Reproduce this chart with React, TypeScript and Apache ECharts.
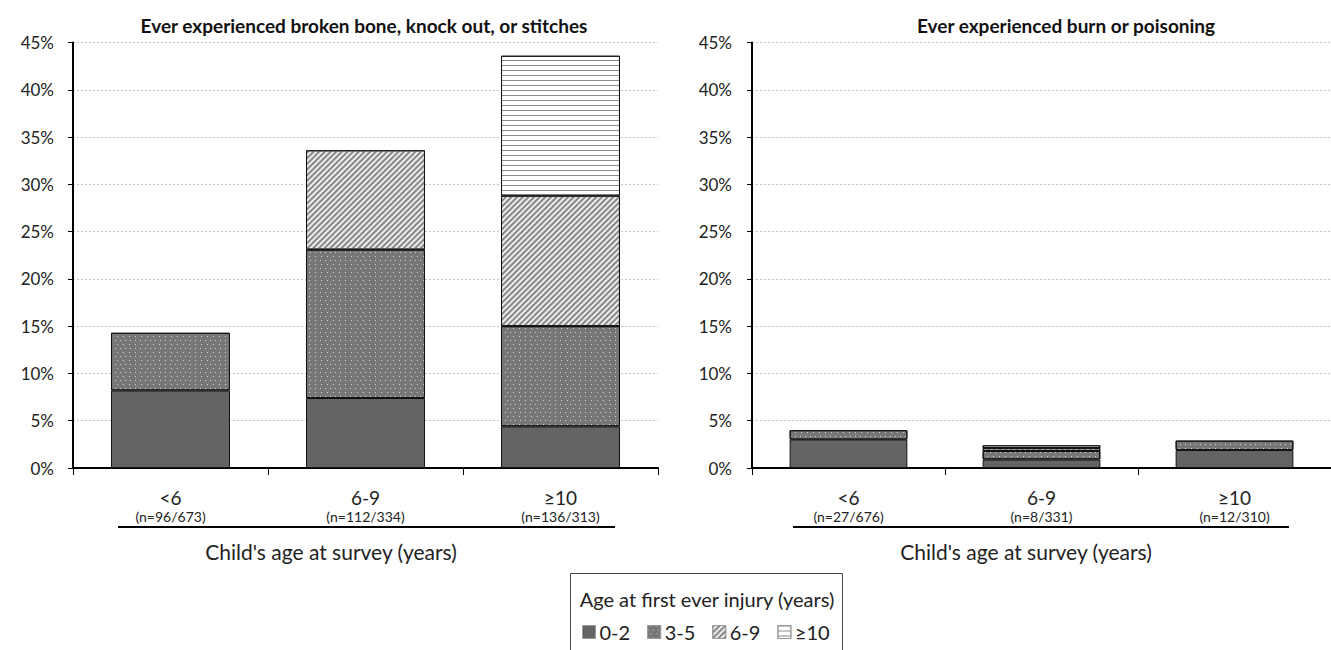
import React, { useEffect, useRef } from "react";
import * as echarts from "echarts";

const childAges = ["<6", "6-9", "≥10"];
const brokenNLabels = ["(n=96/673)", "(n=112/334)", "(n=136/313)"];
const burnNLabels = ["(n=27/676)", "(n=8/331)", "(n=12/310)"];
const injuryAges = ["0-2", "3-5", "6-9", "≥10"];

const broken0to2 = [8.2, 7.4, 4.4];
const broken3to5 = [6.1, 15.7, 10.6];
const broken6to9 = [null, 10.5, 13.8];
const broken10plus = [null, null, 14.8];

const burn0to2 = [3.0, 0.9, 1.9];
const burn3to5 = [1.0, 0.9, 1.0];
const burn6to9 = [null, 0.3, null];
const burn10plus = [null, 0.3, null];

const yTicks = [0, 5, 10, 15, 20, 25, 30, 35, 40, 45];

const FONT = "Lato, 'Open Sans', sans-serif";

const styles: any[] = [
  { color: "#646464" },
  {
    color: "#777777",
    decal: {
      symbol: "rect",
      symbolSize: 1,
      dashArrayX: [[1, 4], [0, 2.5, 1, 1.5]],
      dashArrayY: [1, 2.5],
      color: "#d4d4d4",
      rotation: 0,
    },
  },
  {
    color: "#ececec",
    decal: {
      symbol: "rect",
      symbolSize: 1,
      symbolKeepAspect: false,
      dashArrayX: [10, 0],
      dashArrayY: [1.6, 2],
      color: "#888888",
      rotation: -Math.PI / 4,
    },
  },
  {
    color: "#ffffff",
    decal: {
      symbol: "rect",
      symbolSize: 1,
      symbolKeepAspect: false,
      dashArrayX: [10, 0],
      dashArrayY: [1, 3.7],
      color: "#8a8a8a",
      rotation: 0,
    },
  },
];

export default function App() {
  const ref = useRef<HTMLDivElement>(null);
  useEffect(() => {
    if (!ref.current) return;
    const chart = echarts.init(ref.current, undefined, { renderer: "svg" });
    const brokenData = [broken0to2, broken3to5, broken6to9, broken10plus];
    const burnData = [burn0to2, burn3to5, burn6to9, burn10plus];

    const mkSeries = (data: (number | null)[][], axis: number, stack: string) =>
      injuryAges.map((name, i) => ({
        name,
        type: "bar",
        stack,
        xAxisIndex: axis,
        yAxisIndex: axis,
        barWidth: "61%",
        data: data[i].map((v) => (v == null ? "-" : v)),
        itemStyle: {
          ...styles[i],
          borderColor: "#111",
          borderWidth: 1,
        },
        emphasis: { disabled: true },
      }));

    const xAxisCommon = (labels: string[], gridIndex: number) => ({
      type: "category",
      gridIndex,
      data: childAges,
      axisLine: { lineStyle: { color: "#000", width: 2 } },
      axisTick: { show: true, length: 7, lineStyle: { color: "#000", width: 1 } },
      axisLabel: {
        margin: 19,
        formatter: (v: string, idx: number) => `{a|${v}}\n{b|${labels[idx]}}`,
        rich: {
          a: { fontSize: 19, lineHeight: 21, color: "#222", fontFamily: FONT },
          b: { fontSize: 14, lineHeight: 17, color: "#222", fontFamily: FONT },
        },
      },
    });

    const yAxisCommon = (gridIndex: number, margin: number) => ({
      type: "value",
      gridIndex,
      min: yTicks[0],
      max: yTicks[yTicks.length - 1],
      interval: yTicks[1] - yTicks[0],
      axisLine: { show: true, lineStyle: { color: "#000", width: 2 } },
      axisTick: { show: true, length: 5, lineStyle: { color: "#000", width: 1 } },
      axisLabel: {
        margin,
        formatter: "{value}%",
        fontSize: 17,
        color: "#222",
        fontFamily: FONT,
      },
      splitLine: { show: true, lineStyle: { color: "#c4c4c4", width: 1, type: [2, 2] } },
    });

    chart.setOption({
      animation: false,
      grid: [
        { left: 73, top: 42.5, width: 585, height: 425.5 },
        { left: 752, top: 42.5, width: 594, height: 425.5 },
      ],
      xAxis: [xAxisCommon(brokenNLabels, 0), xAxisCommon(burnNLabels, 1)],
      yAxis: [yAxisCommon(0, 19), yAxisCommon(1, 20)],
      legend: {
        data: injuryAges,
        left: 582,
        top: 622,
        padding: 0,
        itemWidth: 13,
        itemHeight: 13,
        itemGap: 17,
        icon: "rect",
        selectedMode: false,
        textStyle: { fontSize: 20, color: "#222", fontFamily: FONT, padding: [0, 0, 0, -1] },
        itemStyle: { borderColor: "#999", borderWidth: 1 },
      },
      series: [...mkSeries(brokenData, 0, "broken"), ...mkSeries(burnData, 1, "burn")],
      graphic: [
        {
          type: "text",
          x: 364,
          y: 25,
          style: {
            text: "Ever experienced broken bone, knock out, or stitches",
            align: "center",
            verticalAlign: "middle",
            fontSize: 19,
            fontWeight: "bold",
            fontFamily: FONT,
            fill: "#111",
          },
        },
        {
          type: "text",
          x: 1066,
          y: 25,
          style: {
            text: "Ever experienced burn or poisoning",
            align: "center",
            verticalAlign: "middle",
            fontSize: 19,
            fontWeight: "bold",
            fontFamily: FONT,
            fill: "#111",
          },
        },
        {
          type: "line",
          shape: { x1: 118, y1: 527, x2: 615, y2: 527 },
          style: { stroke: "#000", lineWidth: 2 },
        },
        {
          type: "line",
          shape: { x1: 793, y1: 527, x2: 1289, y2: 527 },
          style: { stroke: "#000", lineWidth: 2 },
        },
        {
          type: "text",
          x: 331,
          y: 551,
          style: {
            text: "Child's age at survey (years)",
            align: "center",
            verticalAlign: "middle",
            fontSize: 21,
            fontFamily: FONT,
            fill: "#222",
          },
        },
        {
          type: "text",
          x: 1026,
          y: 551,
          style: {
            text: "Child's age at survey (years)",
            align: "center",
            verticalAlign: "middle",
            fontSize: 21,
            fontFamily: FONT,
            fill: "#222",
          },
        },
        {
          type: "rect",
          shape: { x: 570.5, y: 573.5, width: 272, height: 100 },
          style: { fill: "none", stroke: "#444", lineWidth: 1 },
        },
        {
          type: "text",
          x: 707,
          y: 599,
          style: {
            text: "Age at first ever injury (years)",
            align: "center",
            verticalAlign: "middle",
            fontSize: 20,
            fontFamily: FONT,
            fill: "#222",
          },
        },
      ],
    });
    return () => chart.dispose();
  }, []);
  return (
    <div
      ref={ref}
      style={{ position: "fixed", left: 0, top: 0, width: 1331, height: 650, background: "#fff" }}
    />
  );
}
